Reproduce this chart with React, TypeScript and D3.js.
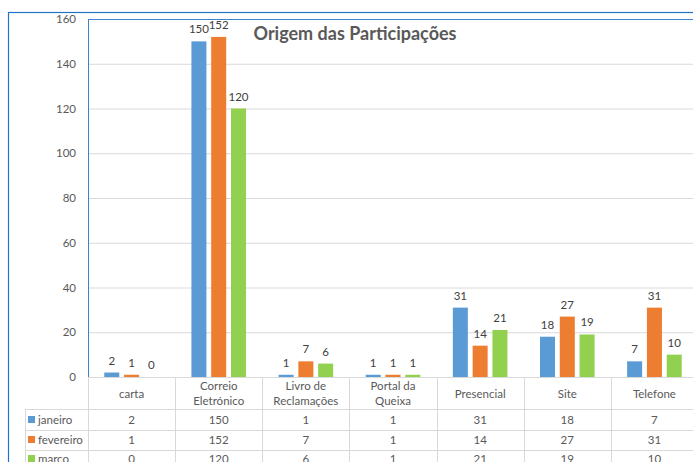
import React, { useEffect, useRef } from 'react'
import * as d3 from 'd3'

const categories = ['carta', 'Correio\nEletrónico', 'Livro de\nReclamações', 'Portal da\nQueixa', 'Presencial', 'Site', 'Telefone']
const seriesNames = ['janeiro', 'fevereiro', 'marco']
const janeiro = [2, 150, 1, 1, 31, 18, 7]
const fevereiro = [1, 152, 7, 1, 14, 27, 31]
const marco = [0, 120, 6, 1, 21, 19, 10]
const yTicks = [0, 20, 40, 60, 80, 100, 120, 140, 160]
const colors = ['#5b9bd5', '#ed7d31', '#92d050']

const FONT = 'Lato, "Liberation Sans", sans-serif'

export default function App () {
  const ref = useRef<SVGSVGElement>(null)

  useEffect(() => {
    const svg = d3.select(ref.current)
    svg.selectAll('*').remove()

    const series = [janeiro, fevereiro, marco]
    const left = 88
    const right = 698
    const top = 19
    const bottom = 377
    const rowLines = [409, 430, 450, 471]

    // outer chart border
    svg.append('rect')
      .attr('x', 8.5).attr('y', 12.5)
      .attr('width', 720).attr('height', 500)
      .attr('fill', '#fff')
      .attr('stroke', '#1f72c4').attr('stroke-width', 1.2)

    const x0 = d3.scaleBand().domain(categories).range([left, right])
    const groupW = 54.6
    const x1 = d3.scaleBand().domain(seriesNames).range([0, groupW]).paddingInner(0.242)
    const xOff = (x0.bandwidth() - groupW) / 2
    const y = d3.scaleLinear().domain([0, 160]).range([bottom, top])

    // gridlines
    svg.append('g').selectAll('line')
      .data(yTicks.filter(d => d > 0))
      .enter().append('line')
      .attr('x1', left).attr('x2', right)
      .attr('y1', d => y(d) + 0.5).attr('y2', d => y(d) + 0.5)
      .attr('stroke', '#d9d9d9').attr('stroke-width', 1)

    // plot area border (selected)
    svg.append('line')
      .attr('x1', left + 0.5).attr('x2', left + 0.5).attr('y1', top).attr('y2', bottom)
      .attr('stroke', '#3b82cc').attr('stroke-width', 1)
    svg.append('line')
      .attr('x1', left).attr('x2', right).attr('y1', top + 0.5).attr('y2', top + 0.5)
      .attr('stroke', '#3b82cc').attr('stroke-width', 1)

    // y axis labels
    svg.append('g').selectAll('text')
      .data(yTicks)
      .enter().append('text')
      .attr('x', 76).attr('y', d => y(d) + 4)
      .attr('text-anchor', 'end')
      .style('font-family', FONT).style('font-size', '11.5px')
      .attr('fill', '#595959')
      .text(d => d)

    // bars
    series.forEach((vals, si) => {
      const g = svg.append('g')
      g.selectAll('rect')
        .data(vals)
        .enter().append('rect')
        .attr('x', (d, i) => x0(categories[i])! + xOff + x1(seriesNames[si])!)
        .attr('y', d => y(d))
        .attr('width', x1.bandwidth())
        .attr('height', d => bottom - y(d))
        .attr('fill', colors[si])

      g.selectAll('text')
        .data(vals)
        .enter().append('text')
        .attr('x', (d, i) => x0(categories[i])! + xOff + x1(seriesNames[si])! + x1.bandwidth() / 2)
        .attr('y', d => y(d) - 8)
        .attr('text-anchor', 'middle')
        .style('font-family', FONT).style('font-size', '11.5px')
        .attr('fill', '#404040')
        .text(d => d)
    })

    // axis line
    svg.append('line')
      .attr('x1', left).attr('x2', right).attr('y1', bottom + 0.5).attr('y2', bottom + 0.5)
      .attr('stroke', '#d9d9d9')

    // data table
    const tbl = svg.append('g')
    const bounds = categories.map(c => x0(c)!).concat([right])
    tbl.selectAll('line.v')
      .data(bounds)
      .enter().append('line')
      .attr('x1', d => Math.round(d) + 0.5).attr('x2', d => Math.round(d) + 0.5)
      .attr('y1', bottom).attr('y2', 470)
      .attr('stroke', '#d9d9d9')
    tbl.append('line')
      .attr('x1', 25.5).attr('x2', 25.5).attr('y1', rowLines[0]).attr('y2', 470)
      .attr('stroke', '#d9d9d9')
    tbl.selectAll('line.h')
      .data(rowLines)
      .enter().append('line')
      .attr('x1', 25).attr('x2', right)
      .attr('y1', d => d + 0.5).attr('y2', d => d + 0.5)
      .attr('stroke', '#d9d9d9')

    // category headers
    categories.forEach(c => {
      const lines = c.split('\n')
      const cx = x0(c)! + x0.bandwidth() / 2
      const t = tbl.append('text')
        .attr('text-anchor', 'middle')
        .style('font-family', FONT).style('font-size', '11.5px')
        .attr('fill', '#595959')
      lines.forEach((ln, li) => {
        t.append('tspan')
          .attr('x', cx)
          .attr('y', lines.length === 1 ? 398 : 390 + li * 14.5)
          .text(ln)
      })
    })

    // rows
    const rowY = [424, 444, 463]
    series.forEach((vals, si) => {
      tbl.append('rect')
        .attr('x', 28).attr('y', rowY[si] - 8)
        .attr('width', 7).attr('height', 7)
        .attr('fill', colors[si])
      tbl.append('text')
        .attr('x', 38).attr('y', rowY[si])
        .style('font-family', FONT).style('font-size', '11.5px')
        .attr('fill', '#595959')
        .text(seriesNames[si])
      tbl.selectAll(`text.v${si}`)
        .data(vals)
        .enter().append('text')
        .attr('x', (d, i) => x0(categories[i])! + x0.bandwidth() / 2)
        .attr('y', rowY[si])
        .attr('text-anchor', 'middle')
        .style('font-family', FONT).style('font-size', '11.5px')
        .attr('fill', '#595959')
        .text(d => d)
    })

    // title
    svg.append('text')
      .attr('x', 355).attr('y', 39.5)
      .attr('text-anchor', 'middle')
      .style('font-family', FONT).style('font-size', '18px').style('font-weight', 700)
      .attr('fill', '#595959')
      .text('Origem das Participações')
  }, [])

  return (
    <svg ref={ref} width={693} height={462}
      style={{ position: 'absolute', left: 0, top: 0, display: 'block', background: '#fff' }} />
  )
}
